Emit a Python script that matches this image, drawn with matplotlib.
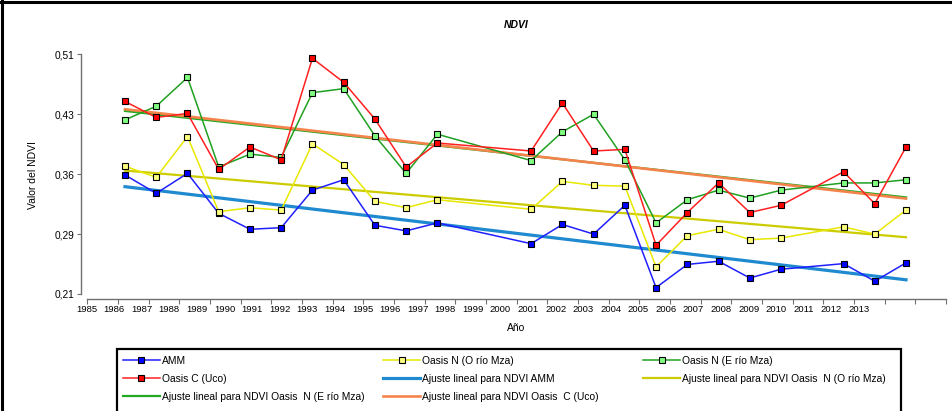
import matplotlib
matplotlib.use("Agg")
import matplotlib.pyplot as plt
from matplotlib.lines import Line2D
from matplotlib.patches import Rectangle
import numpy as np

plt.rcParams['font.family'] = ['Liberation Sans', 'DejaVu Sans']

# years with data (gaps 1997-1998 and 2008)
years = [1986, 1987, 1988, 1989, 1990, 1991, 1992, 1993, 1994, 1995, 1996,
         1999, 2000, 2001, 2002, 2003, 2004, 2005, 2006, 2007,
         2009, 2010, 2011]

amm = [0.359, 0.336, 0.361, 0.311, 0.291, 0.293, 0.340, 0.353, 0.296, 0.289, 0.299,
       0.273, 0.297, 0.285, 0.321, 0.218, 0.247, 0.251, 0.230, 0.241,
       0.248, 0.226, 0.249]
oasis_n_o = [0.370, 0.356, 0.407, 0.313, 0.318, 0.315, 0.398, 0.372, 0.326, 0.318, 0.328,
             0.316, 0.351, 0.346, 0.345, 0.244, 0.283, 0.291, 0.278, 0.280,
             0.294, 0.285, 0.315]
oasis_n_e = [0.428, 0.445, 0.481, 0.369, 0.385, 0.381, 0.462, 0.467, 0.408, 0.361, 0.410,
             0.377, 0.413, 0.435, 0.378, 0.299, 0.328, 0.340, 0.330, 0.340,
             0.349, 0.349, 0.353]
oasis_c = [0.451, 0.431, 0.436, 0.366, 0.394, 0.378, 0.505, 0.475, 0.429, 0.369, 0.399,
           0.389, 0.449, 0.389, 0.391, 0.271, 0.312, 0.349, 0.312, 0.321,
           0.363, 0.323, 0.394]

y_ticks = [0.21, 0.285, 0.36, 0.435, 0.51]
y_labels = ['0,21', '0,29', '0,36', '0,43', '0,51']
x_labels = [str(y) for y in range(1985, 2014)]

series = [
    ('AMM', amm, '#2020ff', '#0000ff'),
    ('Oasis N (O río Mza)', oasis_n_o, '#e8e800', '#ffff80'),
    ('Oasis N (E río Mza)', oasis_n_e, '#20a020', '#80ff80'),
    ('Oasis C (Uco)', oasis_c, '#ff2020', '#ff0000'),
]
fits = [
    ('Ajuste lineal para NDVI AMM', amm, '#1f8ad0', 2.3),
    ('Ajuste lineal para NDVI Oasis  N (O río Mza)', oasis_n_o, '#cccc00', 1.6),
    ('Ajuste lineal para NDVI Oasis  N (E río Mza)', oasis_n_e, '#22aa22', 1.6),
    ('Ajuste lineal para NDVI Oasis  C (Uco)', oasis_c, '#f5844c', 1.9),
]

W, H = 952, 411
fig = plt.figure(figsize=(W / 100, H / 100), dpi=100)
ax = fig.add_axes([81 / W, 112 / H, (948 - 81) / W, (361 - 112) / H])

x = np.array(years, dtype=float)
handles = []
for name, vals, lc, fc in series:
    h, = ax.plot(x, vals, color=lc, lw=1.1, marker='s', ms=4.2, mfc=fc,
                 mec='black', mew=0.8, zorder=4, label=name)
    handles.append(h)
for name, vals, c, lw in fits:
    b, a = np.polyfit(x, vals, 1)
    xs = np.array([x[0], x[-1]])
    h, = ax.plot(xs, a + b * xs, color=c, lw=lw, zorder=3, label=name)
    handles.append(h)

# axis layout (ticks and labels are spaced differently in the original)
tick_x = np.linspace(1984.793, 2012.28, 29)
label_x = np.linspace(1984.77, 2009.50, 29)
ax.set_xlim(1984.592, 2012.344)
ax.set_ylim(0.20374, 0.5154)
ax.set_xticks(tick_x)
ax.set_xticklabels([''] * len(tick_x))
ax.set_xticks(label_x, minor=True)
ax.set_xticklabels(x_labels, minor=True)
ax.set_yticks(y_ticks)
ax.set_yticklabels(y_labels)

for s in ['top', 'right']:
    ax.spines[s].set_visible(False)
for s in ['left', 'bottom']:
    ax.spines[s].set_color('#707070')
    ax.spines[s].set_linewidth(1.0)
ax.spines['left'].set_bounds(0.21, 0.51)
ax.spines['bottom'].set_bounds(tick_x[0], tick_x[-1])
ax.tick_params(axis='x', which='major', length=3.5, width=0.8, color='#707070', direction='out')
ax.tick_params(axis='x', which='minor', length=0, pad=4.5, labelsize=6.8)
ax.tick_params(axis='y', length=3, width=0.8, color='#707070', pad=1.5, labelsize=7.3)

fig.text(516 / W, 1 - 25 / H, 'NDVI', fontsize=7.5, fontweight='bold', fontstyle='italic',
         ha='center', va='center')
fig.text(33 / W, 1 - 175 / H, 'Valor del NDVI', fontsize=7.5, rotation=90,
         ha='center', va='center')
fig.text(516 / W, 1 - 328 / H, 'Año', fontsize=7.5, ha='center', va='center')

# legend: three columns, filled row by row
cols = [[0, 3, 6], [1, 4, 7], [2, 5]]
col_x = [122.7, 383, 643]
for idx, cx in zip(cols, col_x):
    fig.legend([handles[i] for i in idx], [handles[i].get_label() for i in idx],
               loc='upper left', bbox_to_anchor=(cx / W, 1 - 355.5 / H),
               frameon=False, fontsize=7.4, borderpad=0, borderaxespad=0,
               handlelength=3.63, handletextpad=0.15, labelspacing=0.8, numpoints=1)
fig.add_artist(Rectangle((117.3 / W, -0.02), (900.7 - 117.3) / W, 0.02 + (411 - 349) / H,
                         transform=fig.transFigure, fill=False, ec='black', lw=1.6))

# outer frame of the original figure
fig.add_artist(Line2D([1.5 / W, 1.5 / W], [0, 1], transform=fig.transFigure, color='black', lw=2.2))
fig.add_artist(Line2D([0, 1], [1 - 2.5 / H, 1 - 2.5 / H], transform=fig.transFigure, color='black', lw=2.2))

fig.savefig('out.png', dpi=100)
